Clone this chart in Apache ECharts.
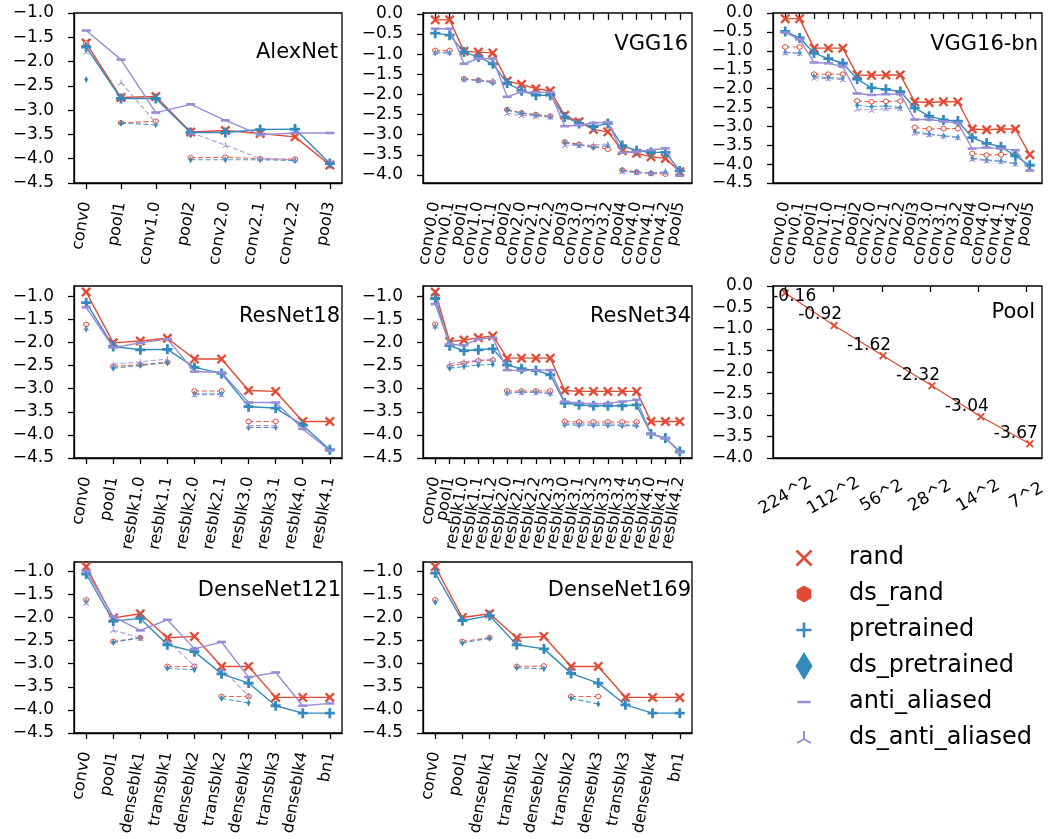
<!DOCTYPE html>
<html lang="en">
<head>
<meta charset="UTF-8">
<title>Layer-wise curves</title>
<script src="https://cdn.jsdelivr.net/npm/echarts@6.0.0/dist/echarts.min.js"></script>
<style>html,body{margin:0;padding:0;background:#fff;}</style>
</head>
<body>
<div id="main" style="width:1049px;height:839px;"></div>
<script type="text/javascript">
// ---- data ----
const alexNames = ['conv0', 'pool1', 'conv1.0', 'pool2', 'conv2.0', 'conv2.1', 'conv2.2', 'pool3'];
const alexGroups = [1, 2, 4, 1];
const alexRand = [-1.62, -2.74, -2.72, -3.45, -3.42, -3.48, -3.55, -4.13];
const alexPre = [-1.70, -2.76, -2.76, -3.46, -3.46, -3.40, -3.39, -4.10];
const alexAnti = [-1.36, -1.96, -3.05, -2.88, -3.21, -3.51, -3.47, -3.47];
const alexDsRand = [-1.62, -3.26, -3.23, -3.98, -3.97, -4.00, -4.01, null];
const alexDsPre = [-2.37, -3.27, -3.30, -4.02, -4.02, -4.02, -4.04, null];
const alexDsAnti = [-1.80, -2.43, -3.26, -3.46, -3.72, -4.00, -4.02, null];

const vggNames = ['conv0.0', 'conv0.1', 'pool1', 'conv1.0', 'conv1.1', 'pool2', 'conv2.0', 'conv2.1', 'conv2.2',
  'pool3', 'conv3.0', 'conv3.1', 'conv3.2', 'pool4', 'conv4.0', 'conv4.1', 'conv4.2', 'pool5'];
const vggGroups = [2, 3, 4, 4, 4, 1];
const vggRand = [-0.15, -0.15, -0.93, -0.95, -0.97, -1.67, -1.75, -1.86, -1.91, -2.52, -2.68, -2.87, -2.93, -3.40, -3.46, -3.55, -3.59, -3.92];
const vggPre = [-0.48, -0.53, -0.95, -1.07, -1.24, -1.72, -1.91, -2.02, -2.02, -2.56, -2.72, -2.80, -2.72, -3.27, -3.40, -3.44, -3.44, -3.90];
const vggAnti = [-0.37, -0.37, -1.24, -1.11, -1.11, -2.06, -1.94, -1.95, -1.95, -2.79, -2.76, -2.71, -2.69, -3.45, -3.42, -3.38, -3.34, -4.02];
const vggDsRand = [-0.91, -0.91, -1.61, -1.65, -1.69, -2.38, -2.46, -2.50, -2.54, -3.18, -3.24, -3.30, -3.36, -3.88, -3.93, -3.96, -3.98, null];
const vggDsPre = [-0.97, -0.97, -1.63, -1.65, -1.71, -2.39, -2.47, -2.52, -2.56, -3.20, -3.26, -3.32, -3.27, -3.89, -3.93, -3.96, -3.93, null];
const vggDsAnti = [-0.95, -0.95, -1.62, -1.65, -1.67, -2.47, -2.52, -2.54, -2.56, -3.26, -3.27, -3.26, -3.23, -3.92, -3.94, -3.96, -3.92, null];

const vggbnRand = [-0.15, -0.15, -0.93, -0.93, -0.93, -1.64, -1.65, -1.64, -1.64, -2.35, -2.37, -2.35, -2.35, -3.07, -3.09, -3.07, -3.07, -3.75];
const vggbnPre = [-0.49, -0.66, -1.06, -1.21, -1.33, -1.75, -1.98, -2.02, -2.08, -2.51, -2.73, -2.83, -2.86, -3.30, -3.45, -3.54, -3.78, -4.03];
const vggbnAnti = [-0.52, -0.70, -1.31, -1.33, -1.42, -2.13, -2.17, -2.15, -2.15, -2.82, -2.82, -2.87, -2.91, -3.59, -3.56, -3.59, -3.63, -4.17];
const vggbnDsRand = [-0.90, -0.90, -1.62, -1.62, -1.62, -2.33, -2.35, -2.34, -2.33, -3.03, -3.07, -3.06, -3.06, -3.72, -3.76, -3.75, -3.73, null];
const vggbnDsPre = [-1.04, -1.06, -1.68, -1.71, -1.73, -2.44, -2.48, -2.46, -2.50, -3.14, -3.20, -3.25, -3.29, -3.84, -3.89, -3.92, -3.98, null];
const vggbnDsAnti = [-1.05, -1.07, -1.72, -1.74, -1.76, -2.54, -2.57, -2.53, -2.53, -3.18, -3.22, -3.26, -3.30, -3.87, -3.91, -3.93, -4.00, null];

const r18Names = ['conv0', 'pool1', 'resblk1.0', 'resblk1.1', 'resblk2.0', 'resblk2.1', 'resblk3.0', 'resblk3.1', 'resblk4.0', 'resblk4.1'];
const r18Groups = [1, 3, 2, 2, 2];
const r18Rand = [-0.91, -2.01, -1.97, -1.91, -2.36, -2.36, -3.04, -3.06, -3.71, -3.71];
const r18Pre = [-1.14, -2.09, -2.16, -2.15, -2.54, -2.67, -3.39, -3.42, -3.79, -4.32];
const r18Anti = [-1.24, -2.11, -2.01, -1.93, -2.63, -2.65, -3.30, -3.30, -3.87, -4.34];
const r18DsRand = [-1.61, -2.52, -2.48, -2.43, -3.05, -3.05, -3.71, -3.71, null, null];
const r18DsPre = [-1.71, -2.56, -2.50, -2.44, -3.11, -3.11, -3.84, -3.84, null, null];
const r18DsAnti = [-1.68, -2.47, -2.42, -2.36, -3.13, -3.13, -3.80, -3.80, null, null];

const r34Names = ['conv0', 'pool1', 'resblk1.0', 'resblk1.1', 'resblk1.2', 'resblk2.0', 'resblk2.1', 'resblk2.2', 'resblk2.3',
  'resblk3.0', 'resblk3.1', 'resblk3.2', 'resblk3.3', 'resblk3.4', 'resblk3.5', 'resblk4.0', 'resblk4.1', 'resblk4.2'];
const r34Groups = [1, 4, 4, 6, 3];
const r34Rand = [-0.91, -1.98, -1.95, -1.90, -1.86, -2.34, -2.34, -2.34, -2.34, -3.04, -3.06, -3.06, -3.06, -3.06, -3.06, -3.71, -3.71, -3.71];
const r34Pre = [-1.05, -2.07, -2.18, -2.16, -2.14, -2.49, -2.57, -2.61, -2.70, -3.31, -3.35, -3.37, -3.37, -3.37, -3.35, -3.98, -4.07, -4.36];
const r34Anti = [-1.17, -2.04, -2.06, -1.93, -1.90, -2.60, -2.61, -2.60, -2.60, -3.28, -3.31, -3.33, -3.32, -3.28, -3.24, -3.98, -4.07, -4.38];
const r34DsRand = [-1.61, -2.52, -2.45, -2.40, -2.38, -3.05, -3.05, -3.05, -3.05, -3.71, -3.72, -3.72, -3.72, -3.72, -3.72, null, null, null];
const r34DsPre = [-1.66, -2.56, -2.52, -2.49, -2.47, -3.10, -3.08, -3.08, -3.11, -3.78, -3.79, -3.79, -3.79, -3.80, -3.80, null, null, null];
const r34DsAnti = [-1.64, -2.46, -2.42, -2.38, -2.37, -3.08, -3.08, -3.08, -3.09, -3.75, -3.76, -3.76, -3.76, -3.77, -3.77, null, null, null];

const poolNames = ['224^2', '112^2', '56^2', '28^2', '14^2', '7^2'];
const poolRand = [-0.16, -0.92, -1.62, -2.32, -3.04, -3.67];

const denseNames = ['conv0', 'pool1', 'denseblk1', 'transblk1', 'denseblk2', 'transblk2', 'denseblk3', 'transblk3', 'denseblk4', 'bn1'];
const denseGroups = [1, 2, 2, 2, 3];
const d121Rand = [-0.90, -2.01, -1.92, -2.44, -2.41, -3.06, -3.06, -3.73, -3.73, -3.73];
const d121Pre = [-1.06, -2.08, -2.02, -2.59, -2.74, -3.22, -3.42, -3.91, -4.07, -4.07];
const d121Anti = [-0.99, -1.98, -2.28, -2.05, -2.68, -2.53, -3.29, -3.19, -3.91, -3.86];
const d121DsRand = [-1.62, -2.52, -2.44, -3.06, -3.06, -3.71, -3.71, null, null, null];
const d121DsPre = [-1.66, -2.54, -2.44, -3.10, -3.13, -3.75, -3.85, null, null, null];
const d121DsAnti = [-1.68, -2.27, -2.45, -2.50, -3.05, -3.10, -3.70, null, null, null];

const d169Rand = [-0.90, -2.00, -1.92, -2.44, -2.41, -3.06, -3.06, -3.73, -3.73, -3.73];
const d169Pre = [-1.04, -2.07, -1.96, -2.59, -2.68, -3.21, -3.42, -3.89, -4.07, -4.07];
const d169DsRand = [-1.62, -2.52, -2.44, -3.06, -3.05, -3.71, -3.71, null, null, null];
const d169DsPre = [-1.67, -2.55, -2.45, -3.09, -3.11, -3.75, -3.87, null, null, null];

// y tick labels
const ticksLow = [-4.5, -4.0, -3.5, -3.0, -2.5, -2.0, -1.5, -1.0];
const ticksTo0 = [-4.0, -3.5, -3.0, -2.5, -2.0, -1.5, -1.0, -0.5, 0.0];
const ticksTo0Deep = [-4.5, -4.0, -3.5, -3.0, -2.5, -2.0, -1.5, -1.0, -0.5, 0.0];

const legendNames = ['rand', 'ds_rand', 'pretrained', 'ds_pretrained', 'anti_aliased', 'ds_anti_aliased'];

// ---- styling ----
const RED = '#E24A33', BLUE = '#348ABD', PURPLE = '#988ED5';
const FONT = 'DejaVu Sans';

// filled bar between two points, used to build marker shapes
function bar(x1, y1, x2, y2, t) {
  const dx = x2 - x1, dy = y2 - y1, L = Math.hypot(dx, dy);
  const nx = -dy / L * t / 2, ny = dx / L * t / 2;
  return 'M' + (x1 + nx) + ',' + (y1 + ny) + 'L' + (x2 + nx) + ',' + (y2 + ny) +
    'L' + (x2 - nx) + ',' + (y2 - ny) + 'L' + (x1 - nx) + ',' + (y1 - ny) + 'Z';
}
function hex(cx, cy, r) {
  const pts = [];
  for (let i = 0; i < 6; i++) {
    const a = Math.PI / 2 + i * Math.PI / 3;
    pts.push((cx + r * Math.cos(a)) + ',' + (cy - r * Math.sin(a)));
  }
  return 'M' + pts.join('L') + 'Z';
}

const SYM_X = 'path://' + bar(0, 0, 10, 10, 2.8) + bar(10, 0, 0, 10, 2.8);
const SYM_PLUS = 'path://' + bar(5, 0, 5, 10, 2.8) + bar(0, 5, 10, 5, 2.8);
const SYM_MINUS = 'path://M0,0H10V2H0Z';
const SYM_HEX = 'path://' + hex(5, 5, 5);
const SYM_DIAM = 'path://M3,0L6,5L3,10L0,5Z';
const SYM_TRI = 'path://' + bar(5, 6, 5, 0, 1.6) + bar(5, 6, 0, 9, 1.6) + bar(5, 6, 10, 9, 1.6);

// legend icons in a 30x30 box (tiny corner specks fix the box)
const PAD = 'M0,0L0.01,0L0,0.01Z M30,30L29.99,30L30,29.99Z ';
const ICONS = [
  'path://' + PAD + bar(7.5, 7.5, 22.5, 22.5, 2.6) + bar(22.5, 7.5, 7.5, 22.5, 2.6),
  'path://' + PAD + hex(15, 15, 8.5),
  'path://' + PAD + bar(15, 7.5, 15, 22.5, 2.6) + bar(7.5, 15, 22.5, 15, 2.6),
  'path://' + PAD + 'M15,1L23.5,15L15,29L6.5,15Z',
  'path://' + PAD + 'M8.5,13.8H21.5V16.2H8.5Z',
  'path://' + PAD + bar(15, 16, 15, 8, 2) + bar(15, 16, 8.07, 20, 2) + bar(15, 16, 21.93, 20, 2)
];
const LEGEND_COLORS = [RED, RED, BLUE, BLUE, PURPLE, PURPLE];

const panels = [
  { title: 'AlexNet', names: alexNames, groups: alexGroups, y: [-4.5, -1.0], ticks: ticksLow,
    s: [alexRand, alexDsRand, alexPre, alexDsPre, alexAnti, alexDsAnti], grid: [74, 13, 268, 170], t: [711, 42] },
  { title: 'VGG16', names: vggNames, groups: vggGroups, y: [-4.2, 0.02], ticks: ticksTo0,
    s: [vggRand, vggDsRand, vggPre, vggDsPre, vggAnti, vggDsAnti], grid: [423, 13, 269, 170], t: [361, 34] },
  { title: 'VGG16-bn', names: vggNames, groups: vggGroups, y: [-4.5, 0.0], ticks: ticksTo0Deep,
    s: [vggbnRand, vggbnDsRand, vggbnPre, vggbnDsPre, vggbnAnti, vggbnDsAnti], grid: [773, 13, 269, 170], t: [11, 34] },
  { title: 'ResNet18', names: r18Names, groups: r18Groups, y: [-4.5, -0.78], ticks: ticksLow,
    s: [r18Rand, r18DsRand, r18Pre, r18DsPre, r18Anti, r18DsAnti], grid: [74, 286, 268, 172], t: [709, 306] },
  { title: 'ResNet34', names: r34Names, groups: r34Groups, y: [-4.5, -0.78], ticks: ticksLow,
    s: [r34Rand, r34DsRand, r34Pre, r34DsPre, r34Anti, r34DsAnti], grid: [423, 286, 269, 172], t: [358, 306] },
  { title: 'DenseNet121', names: denseNames, groups: denseGroups, y: [-4.5, -0.8], ticks: ticksLow,
    s: [d121Rand, d121DsRand, d121Pre, d121DsPre, d121Anti, d121DsAnti], grid: [74, 562, 268, 171], t: [708, 580] },
  { title: 'DenseNet169', names: denseNames, groups: denseGroups, y: [-4.5, -0.8], ticks: ticksLow,
    s: [d169Rand, d169DsRand, d169Pre, d169DsPre, null, null], grid: [423, 562, 269, 171], t: [358, 580] },
  { title: 'Pool', names: poolNames, groups: null, y: [-4.0, 0.0], ticks: ticksTo0,
    s: [poolRand], grid: [773, 286, 269, 172], t: [14, 302], rotate: 30 }
];

// series look: [color, symbol, size, dashed]
const looks = [
  [RED, SYM_X, 10, false],
  [RED, SYM_HEX, 5, true],
  [BLUE, SYM_PLUS, 10, false],
  [BLUE, SYM_DIAM, [4, 7], true],
  [PURPLE, SYM_MINUS, [9, 2.6], false],
  [PURPLE, SYM_TRI, 6, true]
];

const yFmt = v => v.toFixed(1).replace('-', '\u2212');
const black = { color: '#000', width: 1.3 };

// ds curves break between layer groups
function withBreaks(vals, groups) {
  const out = [];
  let i = 0;
  groups.forEach((g, gi) => {
    if (gi > 0) out.push([i - 0.5, null]);
    for (let j = 0; j < g; j++, i++) {
      if (vals[i] !== null) out.push([i, vals[i]]);
    }
  });
  return out;
}

const grids = [], xAxes = [], yAxes = [], titles = [], series = [];

panels.forEach((p, k) => {
  const [gl, gt, gw, gh] = p.grid;
  const n = p.names.length, pad = 0.05 * (n - 1);
  const padPx = gw * pad / (n - 1 + 2 * pad);
  const a = 2 * k, b = 2 * k + 1;
  // frame grid: carries the data and the y axis
  grids.push({ left: gl, top: gt, width: gw, height: gh, show: true, borderColor: '#000', borderWidth: 1.3, backgroundColor: 'transparent' });
  // label grid: category axis spanning first..last layer, only ticks + names
  grids.push({ left: gl + padPx, top: gt, width: gw - 2 * padPx, height: gh });
  xAxes.push({
    gridIndex: a, type: 'value', min: -pad, max: n - 1 + pad,
    axisLine: { show: true, onZero: false, lineStyle: black },
    axisTick: { show: false }, axisLabel: { show: false }, splitLine: { show: false }
  });
  const rot = p.rotate || 80;
  xAxes.push({
    gridIndex: b, type: 'category', data: p.names, boundaryGap: false,
    axisLine: { show: false },
    axisTick: { show: true, interval: 0, length: 6, lineStyle: black },
    axisLabel: rot === 80
      ? { interval: 0, rotate: 80, margin: 19, fontSize: 16, color: '#000', fontFamily: FONT }
      : { interval: 0, rotate: rot, align: 'center', verticalAlign: 'middle', margin: 38, fontSize: 17, color: '#000', fontFamily: FONT },
    splitLine: { show: false }
  });
  yAxes.push({
    gridIndex: a, type: 'value', min: p.y[0], max: p.y[1],
    axisLine: { show: true, onZero: false, lineStyle: black },
    axisTick: { show: true, length: 6, lineStyle: black, customValues: p.ticks },
    axisLabel: { customValues: p.ticks, formatter: yFmt, showMinLabel: true, showMaxLabel: true,
      fontSize: 17, color: '#000', fontFamily: FONT, margin: 20 },
    splitLine: { show: false }
  });
  yAxes.push({ gridIndex: b, type: 'value', show: false, min: p.y[0], max: p.y[1] });
  titles.push({ text: p.title, right: p.t[0], top: p.t[1], padding: 0,
    textStyle: { fontSize: 21, fontWeight: 'normal', color: '#000', fontFamily: FONT } });

  if (p.title === 'Pool') {
    series.push({
      type: 'line', name: 'rand', xAxisIndex: a, yAxisIndex: a,
      data: poolRand.map((v, i) => i === 0 ? { value: [i, v], label: { offset: [9, 18] } } : [i, v]),
      symbol: SYM_X, symbolSize: 8,
      lineStyle: { color: RED, width: 1.2 }, itemStyle: { color: RED }, color: RED,
      emphasis: { disabled: true },
      label: { show: true, position: 'top', distance: 2, offset: [-14, 4], formatter: q => q.value[1].toFixed(2),
        fontSize: 17, color: '#000', fontFamily: FONT }
    });
    return;
  }
  p.s.forEach((vals, si) => {
    if (!vals) return;
    const [color, sym, size, dashed] = looks[si];
    series.push({
      type: 'line', name: legendNames[si], xAxisIndex: a, yAxisIndex: a,
      data: dashed ? withBreaks(vals, p.groups) : vals.map((v, i) => [i, v]),
      symbol: sym, symbolSize: size,
      lineStyle: dashed ? { color: color, width: 1.1, type: [5, 2.5], opacity: 0.85 } : { color: color, width: 1.4 },
      itemStyle: si === 1 ? { color: '#fff', borderColor: color, borderWidth: 1 } : { color: color },
      color: color,
      emphasis: { disabled: true },
      z: 2 + si
    });
  });
});

const chart = echarts.init(document.getElementById('main'));
chart.setOption({
  animation: false,
  backgroundColor: '#fff',
  textStyle: { fontFamily: FONT },
  title: titles,
  grid: grids,
  xAxis: xAxes,
  yAxis: yAxes,
  legend: {
    orient: 'vertical', left: 789, top: 543, padding: 0, itemWidth: 30, itemHeight: 30, itemGap: 6,
    selectedMode: false,
    textStyle: { fontSize: 24, lineHeight: 30, color: '#000', fontFamily: FONT, padding: [0, 0, 0, 25] },
    data: legendNames.map((n, i) => ({ name: n, icon: ICONS[i], itemStyle: { color: LEGEND_COLORS[i], borderWidth: 0, opacity: 1 } }))
  },
  series: series
});
</script>
</body>
</html>
